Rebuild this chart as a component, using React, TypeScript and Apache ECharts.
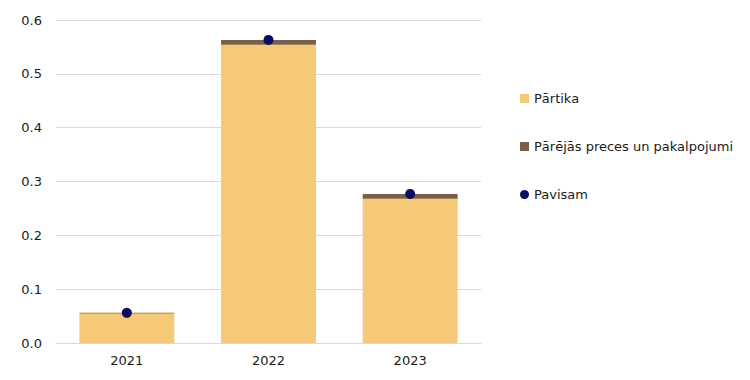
import React, { useEffect, useRef } from "react";
import * as echarts from "echarts";

const categories = ["2021", "2022", "2023"];
const food = [0.055, 0.554, 0.268];
const other = [0.001, 0.009, 0.009];
const total = [0.056, 0.563, 0.277];
const seriesNames = ["Pārtika", "Pārējās preces un pakalpojumi", "Pavisam"];

export default function App() {
  const ref = useRef<HTMLDivElement>(null);
  useEffect(() => {
    if (!ref.current) return;
    const chart = echarts.init(ref.current, null, { renderer: "svg" });
    const font = "'DejaVu Sans', Verdana, sans-serif";
    chart.setOption({
      animation: false,
      textStyle: { fontFamily: font },
      grid: { left: 56, right: 269, top: 20, bottom: 37, containLabel: false },
      legend: {
        orient: "vertical",
        left: 515,
        top: 87,
        itemGap: 35,
        itemWidth: 9,
        itemHeight: 9,
        textStyle: { fontSize: 13, color: "#1a1a1a", fontFamily: font },
        data: [
          { name: seriesNames[0], icon: "rect" },
          { name: seriesNames[1], icon: "rect" },
          { name: seriesNames[2], icon: "circle" },
        ],
      },
      xAxis: {
        type: "category",
        data: categories,
        axisTick: { show: false },
        axisLine: { lineStyle: { color: "#d9d9d9" } },
        axisLabel: { color: "#1a1a1a", fontSize: 13, margin: 11, fontFamily: font },
      },
      yAxis: {
        type: "value",
        min: 0,
        max: 0.6,
        interval: 0.1,
        axisLabel: {
          color: "#1a1a1a",
          fontSize: 13,
          margin: 14,
          fontFamily: font,
          formatter: (v: number) => v.toFixed(1),
        },
        splitLine: { lineStyle: { color: "#d9d9d9" } },
        axisLine: { show: false },
        axisTick: { show: false },
      },
      series: [
        {
          name: seriesNames[0],
          type: "bar",
          stack: "s",
          data: food,
          barCategoryGap: "33%",
          itemStyle: { color: "#f5c977" },
        },
        {
          name: seriesNames[1],
          type: "bar",
          stack: "s",
          data: other,
          itemStyle: { color: "#7b5e48" },
        },
        {
          name: seriesNames[2],
          type: "scatter",
          data: total,
          symbol: "circle",
          symbolSize: 10,
          itemStyle: { color: "#0c0c5e", opacity: 1 },
          z: 5,
        },
      ],
    });
    return () => chart.dispose();
  }, []);
  return <div ref={ref} style={{ width: 750, height: 380, margin: -8 }} />;
}
